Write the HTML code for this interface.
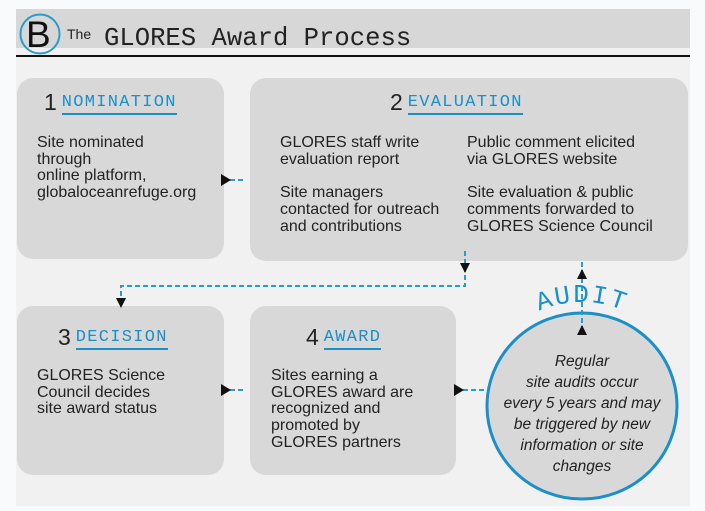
<!DOCTYPE html>
<html><head><meta charset="utf-8"><style>
body{margin:0;width:705px;height:511px;background:#f8fafc;position:relative;overflow:hidden;font-family:"Liberation Sans",sans-serif;color:#222}
.bg{position:absolute;left:16px;top:9px;width:674px;height:497px;background:#f1f1f1}
.hdr{position:absolute;left:16px;top:9px;width:674px;height:39px;background:#d7d7d7}
.line{position:absolute;left:16px;top:55px;width:674px;height:2px;background:#111}
.box{position:absolute;background:#d8d8d8;border-radius:16px}
.t{position:absolute;font-size:16px;line-height:16.7px;color:#222;white-space:nowrap}
.h{position:absolute;font-size:23px;color:#222;white-space:nowrap}
.h span{font-family:"Liberation Mono",monospace;font-size:17px;letter-spacing:1.3px;color:#1a8fc8;border-bottom:2px solid #1a8fc8;padding-bottom:1px;margin-left:5px;vertical-align:4px}
</style></head><body>
<div class="bg"></div>
<div class="hdr"></div>
<div class="line"></div>
<svg style="position:absolute;left:0;top:0" width="705" height="511">
<circle cx="40" cy="34" r="19.5" fill="none" stroke="#2a9cc8" stroke-width="2"/>
<text x="26" y="47" font-family="Liberation Sans" font-size="37" fill="#111">B</text>
<text x="67" y="39" font-family="Liberation Sans" font-size="14" fill="#222">The</text>
<text x="104" y="45" font-family="Liberation Mono" font-size="25.6" fill="#222">GLORES Award Process</text>
</svg>
<div class="box" style="left:17px;top:78px;width:207px;height:181px"></div>
<div class="box" style="left:250px;top:78px;width:438px;height:183px"></div>
<div class="box" style="left:17px;top:306px;width:207px;height:169px"></div>
<div class="box" style="left:250px;top:306px;width:206px;height:169px"></div>
<div class="h" style="left:44px;top:89px">1<span>NOMINATION</span></div>
<div class="h" style="left:390px;top:89px">2<span>EVALUATION</span></div>
<div class="h" style="left:58px;top:324px">3<span>DECISION</span></div>
<div class="h" style="left:306px;top:324px">4<span>AWARD</span></div>
<div class="t" style="left:37px;top:135px">Site nominated<br>through<br>online platform,<br>globaloceanrefuge.org</div>
<div class="t" style="left:280px;top:135px">GLORES staff write<br>evaluation report<br><br>Site managers<br>contacted for outreach<br>and contributions</div>
<div class="t" style="left:467px;top:135px">Public comment elicited<br>via GLORES website<br><br>Site evaluation &amp; public<br>comments forwarded to<br>GLORES Science Council</div>
<div class="t" style="left:37px;top:368px">GLORES Science<br>Council decides<br>site award status</div>
<div class="t" style="left:271px;top:368px">Sites earning a<br>GLORES award are<br>recognized and<br>promoted by<br>GLORES partners</div>
<svg style="position:absolute;left:0;top:0" width="705" height="511">
<ellipse cx="582" cy="406" rx="95" ry="93" fill="#d8d8d8" stroke="#1a8fc8" stroke-width="3"/>
<g stroke="#2a9cc8" stroke-width="2" stroke-dasharray="5,3" fill="none">
<line x1="230" y1="180" x2="246" y2="180"/>
<polyline points="465,251 465,286 121,286 121,298"/>
<line x1="230" y1="390" x2="246" y2="390"/>
<line x1="463" y1="390" x2="487" y2="390"/>
<line x1="582" y1="262" x2="582" y2="330"/>
</g>
<g fill="#111">
<polygon points="221,174 231,180 221,186"/>
<polygon points="460,263 470,263 465,273"/>
<polygon points="116,298 126,298 121,308"/>
<polygon points="221,384 231,390 221,396"/>
<polygon points="454,384 464,390 454,396"/>
<polygon points="577,279 587,279 582,269"/>
<polygon points="577,335 587,335 582,325"/>
</g>
<path id="arc" d="M 474 410 A 108 108 0 0 1 690 410" fill="none"/>
<text font-family="Liberation Mono" font-size="26" fill="#1a8fc8" letter-spacing="2"><textPath href="#arc" startOffset="50%" text-anchor="middle">AUDIT</textPath></text>
<g font-family="Liberation Sans" font-style="italic" font-size="15.5" fill="#222" text-anchor="middle">
<text x="582" y="366">Regular</text>
<text x="582" y="387">site audits occur</text>
<text x="582" y="408">every 5 years and may</text>
<text x="582" y="429">be triggered by new</text>
<text x="582" y="450">information or site</text>
<text x="582" y="471">changes</text>
</g>
</svg>
</body></html>
